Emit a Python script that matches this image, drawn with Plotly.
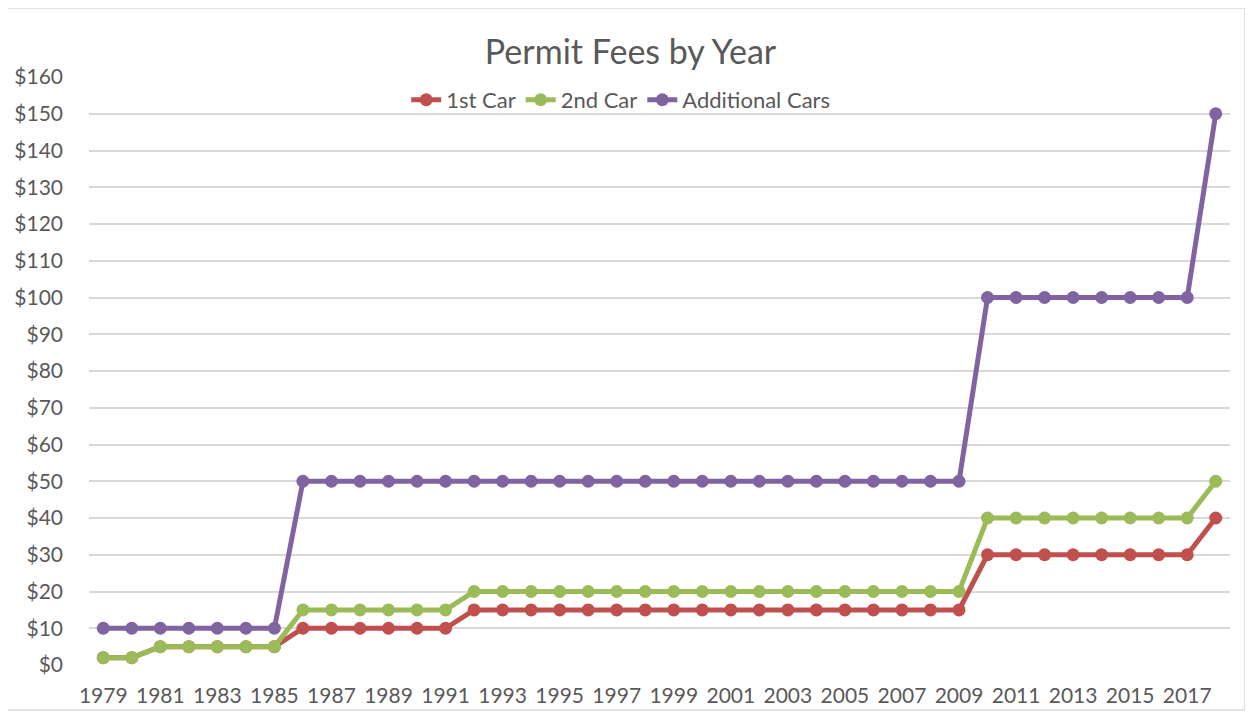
import plotly.graph_objects as go

years = list(range(1979, 2019))
first_car = [2, 2, 5, 5, 5, 5, 5, 10, 10, 10, 10, 10, 10,
             15, 15, 15, 15, 15, 15, 15, 15, 15, 15, 15, 15, 15, 15, 15, 15, 15, 15,
             30, 30, 30, 30, 30, 30, 30, 30, 40]
second_car = [2, 2, 5, 5, 5, 5, 5, 15, 15, 15, 15, 15, 15,
              20, 20, 20, 20, 20, 20, 20, 20, 20, 20, 20, 20, 20, 20, 20, 20, 20, 20,
              40, 40, 40, 40, 40, 40, 40, 40, 50]
additional_cars = [10, 10, 10, 10, 10, 10, 10] + [50] * 24 + [100] * 8 + [150]

series = [
    ("1st Car", first_car, "#C0504D"),
    ("2nd Car", second_car, "#9BBB59"),
    ("Additional Cars", additional_cars, "#8064A2"),
]

fig = go.Figure()
for name, vals, color in series:
    fig.add_trace(go.Scatter(
        x=years, y=vals, name=name, mode="lines+markers",
        line=dict(color=color, width=5),
        marker=dict(color=color, size=13),
    ))

font = "Lato, Open Sans, sans-serif"
fig.update_layout(
    width=1245, height=709,
    margin=dict(l=81, r=23, t=69, b=52),
    paper_bgcolor="white", plot_bgcolor="white",
    font=dict(family=font, size=21, color="#595959"),
    title=dict(text="Permit Fees by Year", x=0.5, xanchor="center", y=0.938, yanchor="middle",
               font=dict(size=34, color="#595959")),
    legend=dict(orientation="h", x=0.466, xanchor="center", y=0.961, yanchor="middle",
                bgcolor="rgba(0,0,0,0)", font=dict(size=22)),
    xaxis=dict(range=[1978.5, 2018.5], tickmode="array", tickvals=years[::2],
               showgrid=False, zeroline=False, showline=False, ticks="",
               automargin=False, ticklabelstandoff=16),
    yaxis=dict(range=[0, 160], dtick=10, tickprefix="$", gridcolor="#D9D9D9",
               gridwidth=1.5, zeroline=False, showline=False, ticks="",
               automargin=False, ticklabelstandoff=25),
    shapes=[dict(type="rect", xref="paper", yref="paper",
                 x0=-0.0719, x1=1.0131, y0=-0.0765, y1=1.1173,
                 line=dict(color="#D9D9D9", width=1.5), layer="below")],
)

fig.write_html("out.html")
